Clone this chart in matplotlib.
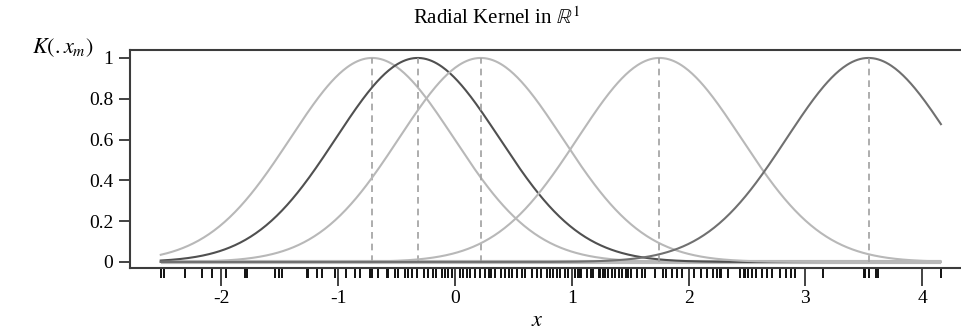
import numpy as np
import matplotlib
matplotlib.use("Agg")
import matplotlib.pyplot as plt
from matplotlib.ticker import FixedLocator

plt.rcParams['font.family'] = ['Liberation Serif', 'DejaVu Serif']
plt.rcParams['mathtext.fontset'] = 'stix'

# observed data points (rug)
rug = [-2.52, -2.49, -2.31, -2.17, -2.08, -2.00, -1.96, -1.80, -1.78, -1.54,
       -1.51, -1.48, -1.27, -1.26, -1.18, -1.14, -1.03, -0.93, -0.86, -0.81,
       -0.73, -0.71, -0.66, -0.58, -0.57, -0.51, -0.49, -0.43, -0.40,
       -0.37, -0.33, -0.27, -0.23, -0.19, -0.16, -0.11, -0.09, -0.06, -0.03,
       0.00, 0.04, 0.07, 0.10, 0.13, 0.17, 0.21, 0.26, 0.29, 0.31, 0.34,
       0.39, 0.43, 0.46, 0.49, 0.53, 0.57, 0.60, 0.66, 0.70, 0.74, 0.79,
       0.81, 0.84, 0.87, 0.90, 0.94, 0.97, 1.03, 1.05, 1.07, 1.08, 1.13,
       1.16, 1.18, 1.23, 1.24, 1.27, 1.28, 1.31, 1.34, 1.37, 1.40, 1.43,
       1.46, 1.48, 1.51, 1.56, 1.60, 1.63, 1.71, 1.78, 1.81, 1.86, 1.90,
       1.94, 2.05, 2.11, 2.16, 2.21, 2.24, 2.27, 2.28, 2.34, 2.44, 2.47,
       2.48, 2.51, 2.54, 2.58, 2.63, 2.67, 2.71, 2.78, 2.83, 2.88, 2.91,
       3.15, 3.50, 3.51, 3.54, 3.60, 3.62, 4.16]

# kernel centres and their line colours
centers = [-0.71, -0.32, 0.22, 1.75, 3.54]
colors = ["#b8b8b8", "#505050", "#b8b8b8", "#b8b8b8", "#707070"]
sigma = 0.7

xticks = [-2, -1, 0, 1, 2, 3, 4]
yticks = [0, 0.2, 0.4, 0.6, 0.8, 1]
ytick_labels = ["0", "0.2", "0.4", "0.6", "0.8", "1"]

fig = plt.figure(figsize=(9.61, 3.32), dpi=100)
ax = fig.add_axes([0.1353, 0.1928, 0.8647, 0.6566])

xs = np.linspace(min(rug), max(rug), 600)
ax.plot(xs, np.zeros_like(xs), color="#bdbdbd", lw=3, solid_capstyle="butt")
for c, col in zip(centers, colors):
    ax.plot(xs, np.exp(-(xs - c) ** 2 / (2 * sigma ** 2)), color=col, lw=1.5)
    ax.plot([c, c], [0, 1], color="#a0a0a0", lw=1.2, ls=(0, (4, 3)))

ax.set_xlim(-2.783, 4.332)
ax.set_ylim(-0.0294, 1.039)

ax.spines["right"].set_visible(False)
for s in ["left", "top", "bottom"]:
    ax.spines[s].set_color("#3c3c3c")
    ax.spines[s].set_linewidth(1.5)

ax.set_xticks(xticks)
ax.set_xticklabels([str(t) for t in xticks])
ax.xaxis.set_minor_locator(FixedLocator(rug))
ax.tick_params(axis="x", which="major", length=13, width=1.2, color="#222222",
               labelsize=14, pad=3)
ax.tick_params(axis="x", which="minor", length=7, width=1.4, color="#111111")
ax.set_yticks(yticks)
ax.set_yticklabels(ytick_labels)
ax.tick_params(axis="y", length=8, width=1.2, color="#222222", labelsize=14, pad=4)

ax.set_xlabel("$x$", fontsize=16)
ax.xaxis.set_label_coords(0.49, -0.2)
ax.set_ylabel("$K(.x_m)$", fontsize=16, rotation=0, va="center")
ax.yaxis.set_label_coords(-0.081, 1.01)
fig.text(0.517, 0.945, r"Radial Kernel in $\mathbb{R}^1$", ha="center",
         va="center", fontsize=15)

fig.savefig("out.png", dpi=100)
